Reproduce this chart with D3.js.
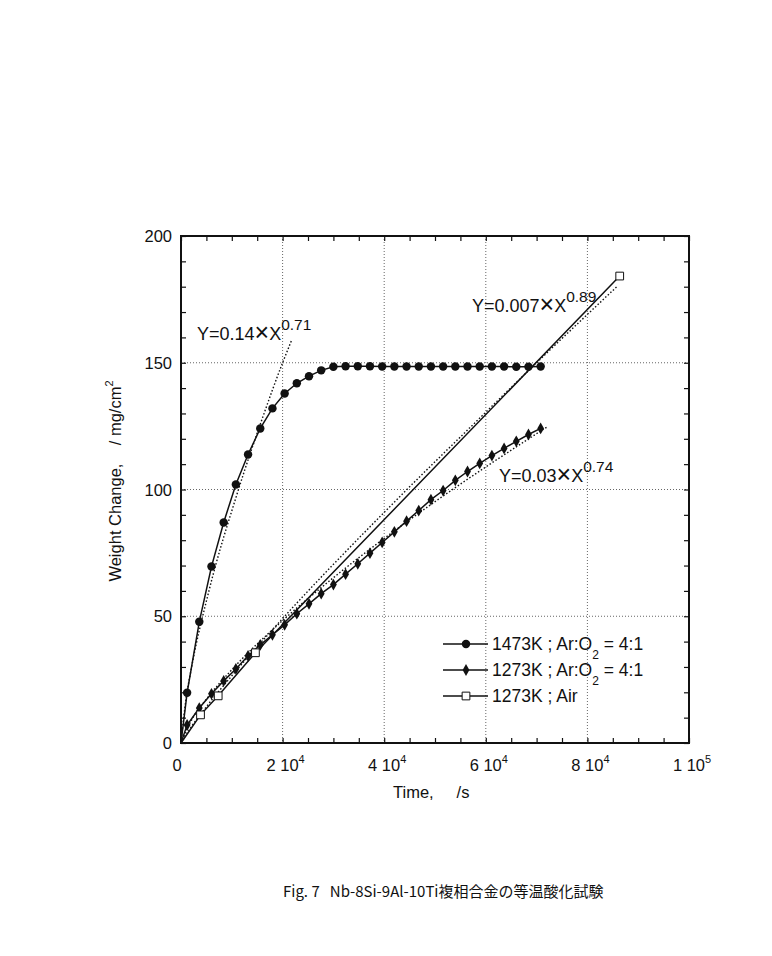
<!DOCTYPE html>
<html lang="ja">
<head>
<meta charset="UTF-8">
<title>Nb-8Si-9Al-10Ti isothermal oxidation</title>
<script src="https://d3js.org/d3.v7.min.js"></script>
<style>
html, body { margin: 0; padding: 0; background: white; }
body { font-family: 'Liberation Sans', Arial, sans-serif; }
.tick-label { font-size: 16.5px; fill: #111; }
.axis-title { font-size: 16.5px; fill: #111; }
.legend-text { font-size: 17.5px; fill: #111; }
.fit-label { font-size: 18px; fill: #111; }
.caption { font-size: 15px; fill: #111; font-family: 'Noto Sans CJK JP', 'Liberation Sans', sans-serif; }
</style>
</head>
<body>
<div id="chart"></div>
<script>

// --------------------------------------
// Data
// --------------------------------------

// exposure time, s (same sampling for both Ar:O2 runs)
const timeAr = [1200, 3600, 6000, 8400, 10800, 13200, 15600, 18000, 20400, 22800,
  25200, 27600, 30000, 32400, 34800, 37200, 39600, 42000, 44400, 46800,
  49200, 51600, 54000, 56400, 58800, 61200, 63600, 66000, 68400, 70800];

// 1473K ; Ar:O2 = 4:1
const w1473 = [19.8, 47.8, 69.6, 87.0, 102.0, 113.8, 124.1, 132.0, 137.9, 141.9,
  144.7, 147.0, 148.4, 148.6, 148.6, 148.6, 148.5, 148.5, 148.5, 148.5,
  148.5, 148.5, 148.5, 148.5, 148.5, 148.5, 148.5, 148.4, 148.4, 148.5];

// 1273K ; Ar:O2 = 4:1
const w1273 = [7.1, 13.8, 19.4, 24.5, 29.2, 34.4, 38.7, 42.7, 46.6, 51.0,
  54.9, 58.9, 62.5, 66.6, 70.7, 74.9, 79.1, 83.3, 87.5, 91.7,
  96.0, 99.6, 103.6, 107.1, 110.3, 113.4, 116.2, 119.0, 121.7, 124.1];

// 1273K ; Air
const timeAir = [3840, 7320, 14650, 86360];
const wAir = [11.1, 18.6, 35.6, 184.2];

// fitted curves (dotted)
const fit1X = [0, 1000, 2000, 5500, 11000, 16000, 20000, 21800];
const fit1Y = [0, 17.5, 29, 60, 98, 128, 150, 159];
const fit2X = [0, 2000, 5000, 10000, 20000, 40000, 60000, 70000, 85800];
const fit2Y = [0, 6.3, 14.3, 26.5, 49.1, 91, 130.5, 150, 180];
const fit3X = [0, 2000, 5000, 10000, 20000, 30000, 40000, 50000, 60000, 72000];
const fit3Y = [0, 8.8, 17.3, 28.9, 48.3, 65.2, 80.7, 95.2, 108.9, 124.6];

// axes
const xMajor = [0, 20000, 40000, 60000, 80000, 100000];
const xTickBase = ["0", "2 10", "4 10", "6 10", "8 10", "1 10"];
const xTickExp = ["", "4", "4", "4", "4", "5"];
const yMajor = [0, 50, 100, 150, 200];

// --------------------------------------
// Size
// --------------------------------------

const W = 772, H = 956;
const plot = {left: 181, right: 689, top: 236, bottom: 743};

const svg = d3.select("#chart").append("svg")
  .attr("width", W).attr("height", H);

const x = d3.scaleLinear().domain([0, 100000]).range([plot.left, plot.right]);
const y = d3.scaleLinear().domain([0, 200]).range([plot.bottom, plot.top]);

// --------------------------------------
// Grid
// --------------------------------------

svg.append("g").selectAll("line")
  .data(xMajor.slice(1, -1))
  .join("line")
  .attr("x1", d => x(d)).attr("x2", d => x(d))
  .attr("y1", plot.top).attr("y2", plot.bottom)
  .attr("stroke", "#666").attr("stroke-width", 1)
  .attr("stroke-dasharray", "1,2");

svg.append("g").selectAll("line")
  .data(yMajor.slice(1, -1))
  .join("line")
  .attr("x1", plot.left).attr("x2", plot.right)
  .attr("y1", d => y(d)).attr("y2", d => y(d))
  .attr("stroke", "#666").attr("stroke-width", 1)
  .attr("stroke-dasharray", "1,2");

// --------------------------------------
// Axes (inward ticks on all 4 sides)
// --------------------------------------

const xMinor = d3.range(0, 100001, 5000);
const yMinor = d3.range(0, 201, 10);
const tk = 5;

const axisStyle = g => {
  g.select(".domain").remove();
  g.selectAll(".tick line").attr("stroke", "#111").attr("stroke-width", 1.2);
  g.selectAll(".tick text").remove();
};

svg.append("g").attr("transform", `translate(0,${plot.bottom})`)
  .call(d3.axisBottom(x).tickValues(xMinor).tickSize(-tk)).call(axisStyle);
svg.append("g").attr("transform", `translate(0,${plot.top})`)
  .call(d3.axisTop(x).tickValues(xMinor).tickSize(-tk)).call(axisStyle);
svg.append("g").attr("transform", `translate(${plot.left},0)`)
  .call(d3.axisLeft(y).tickValues(yMinor).tickSize(-tk)).call(axisStyle);
svg.append("g").attr("transform", `translate(${plot.right},0)`)
  .call(d3.axisRight(y).tickValues(yMinor).tickSize(-tk)).call(axisStyle);

// frame
svg.append("rect")
  .attr("x", plot.left).attr("y", plot.top)
  .attr("width", plot.right - plot.left).attr("height", plot.bottom - plot.top)
  .attr("fill", "none").attr("stroke", "#111").attr("stroke-width", 2);

// tick labels
svg.append("g").selectAll("text")
  .data(yMajor)
  .join("text")
  .attr("class", "tick-label")
  .attr("x", plot.left - 9)
  .attr("y", d => y(d) + 6)
  .attr("text-anchor", "end")
  .text(d => d);

const xl = svg.append("g").selectAll("text")
  .data(xMajor)
  .join("text")
  .attr("class", "tick-label")
  .attr("x", (d, i) => x(d) + (xTickExp[i] ? 3 : -4))
  .attr("y", plot.bottom + 28)
  .attr("text-anchor", "middle");
xl.append("tspan").text((d, i) => xTickBase[i]);
xl.append("tspan").attr("dy", -8).attr("font-size", 11)
  .text((d, i) => xTickExp[i]);

// axis titles
svg.append("text").attr("class", "axis-title")
  .attr("x", 393).attr("y", 798)
  .attr("xml:space", "preserve")
  .text("Time,     /s");

const yt = svg.append("text").attr("class", "axis-title")
  .attr("transform", "translate(121,481) rotate(-90)")
  .attr("text-anchor", "middle")
  .attr("xml:space", "preserve");
yt.append("tspan").text("Weight Change,    / mg/cm");
yt.append("tspan").attr("dy", -8).attr("font-size", 11).text("2");

// --------------------------------------
// Fit curves (dotted)
// --------------------------------------

const line = d3.line().x(d => x(d[0])).y(d => y(d[1]));

[[fit1X, fit1Y], [fit2X, fit2Y], [fit3X, fit3Y]].forEach(([fx, fy]) => {
  svg.append("path")
    .datum(fx.map((v, i) => [v, fy[i]]))
    .attr("d", d3.line().curve(d3.curveMonotoneX).x(d => x(d[0])).y(d => y(d[1])))
    .attr("fill", "none").attr("stroke", "#111")
    .attr("stroke-width", 1.4).attr("stroke-dasharray", "1.5,2");
});

// --------------------------------------
// Series
// --------------------------------------

const s1 = [[0, 0]].concat(timeAr.map((t, i) => [t, w1473[i]]));
const s2 = [[0, 0]].concat(timeAr.map((t, i) => [t, w1273[i]]));
const s3 = [[0, 0]].concat(timeAir.map((t, i) => [t, wAir[i]]));

[s1, s2, s3].forEach(s => {
  svg.append("path").datum(s).attr("d", line)
    .attr("fill", "none").attr("stroke", "#111").attr("stroke-width", 1.5);
});

const circle = d3.symbol().type(d3.symbolCircle).size(56);
const diamond = d3.symbol().type(d3.symbolDiamond).size(40);
const square = d3.symbol().type(d3.symbolSquare).size(60);

svg.append("g").selectAll("path")
  .data(s1.filter(d => d[0] > 0))
  .join("path")
  .attr("transform", d => `translate(${x(d[0])},${y(d[1])})`)
  .attr("d", circle).attr("fill", "#111");

svg.append("g").selectAll("path")
  .data(s2.filter(d => d[0] > 0))
  .join("path")
  .attr("transform", d => `translate(${x(d[0])},${y(d[1])})`)
  .attr("d", diamond).attr("fill", "#111");

svg.append("g").selectAll("path")
  .data(s3.filter(d => d[0] > 0))
  .join("path")
  .attr("transform", d => `translate(${x(d[0])},${y(d[1])})`)
  .attr("d", square).attr("fill", "white").attr("stroke", "#111").attr("stroke-width", 1);

// --------------------------------------
// Fit labels
// --------------------------------------

const fitLabels = [
  {pre: "Y=0.14", exp: "0.71", x: 197, y: 340},
  {pre: "Y=0.007", exp: "0.89", x: 472, y: 312},
  {pre: "Y=0.03", exp: "0.74", x: 499, y: 482}
];

fitLabels.forEach(f => {
  const t = svg.append("text").attr("class", "fit-label")
    .attr("x", f.x).attr("y", f.y);
  t.append("tspan").text(f.pre);
  t.append("tspan").attr("font-size", 25).attr("dy", 1).text("\u00D7");
  t.append("tspan").attr("dy", -1).text("X");
  t.append("tspan").attr("dy", -10).attr("font-size", 15.5).text(f.exp);
});

// --------------------------------------
// Legend
// --------------------------------------

const legendRows = [
  {label: "1473K ; Ar:O", sub: "2", tail: " = 4:1", sym: circle, fill: "#111"},
  {label: "1273K ; Ar:O", sub: "2", tail: " = 4:1", sym: diamond, fill: "#111"},
  {label: "1273K ; Air", sub: "", tail: "", sym: square, fill: "white"}
];

const lg = svg.append("g").attr("transform", "translate(443,644)");

legendRows.forEach((r, i) => {
  const gy = i * 26;
  lg.append("line").attr("x1", 0).attr("x2", 45).attr("y1", gy).attr("y2", gy)
    .attr("stroke", "#111").attr("stroke-width", 1.5);
  lg.append("path").attr("transform", `translate(23,${gy})`)
    .attr("d", r.sym).attr("fill", r.fill).attr("stroke", "#111")
    .attr("stroke-width", r.fill === "white" ? 1 : 0);
  const t = lg.append("text").attr("class", "legend-text")
    .attr("x", 49).attr("y", gy + 6).attr("xml:space", "preserve");
  t.append("tspan").text(r.label);
  if (r.sub) {
    t.append("tspan").attr("dy", 9).attr("font-size", 12).text(r.sub);
    t.append("tspan").attr("dy", -9).text(r.tail);
  }
});

// --------------------------------------
// Caption
// --------------------------------------

svg.append("text").attr("class", "caption")
  .attr("x", 283).attr("y", 897)
  .attr("xml:space", "preserve")
  .text("Fig. 7   Nb-8Si-9Al-10Ti複相合金の等温酸化試験");

</script>
</body>
</html>
